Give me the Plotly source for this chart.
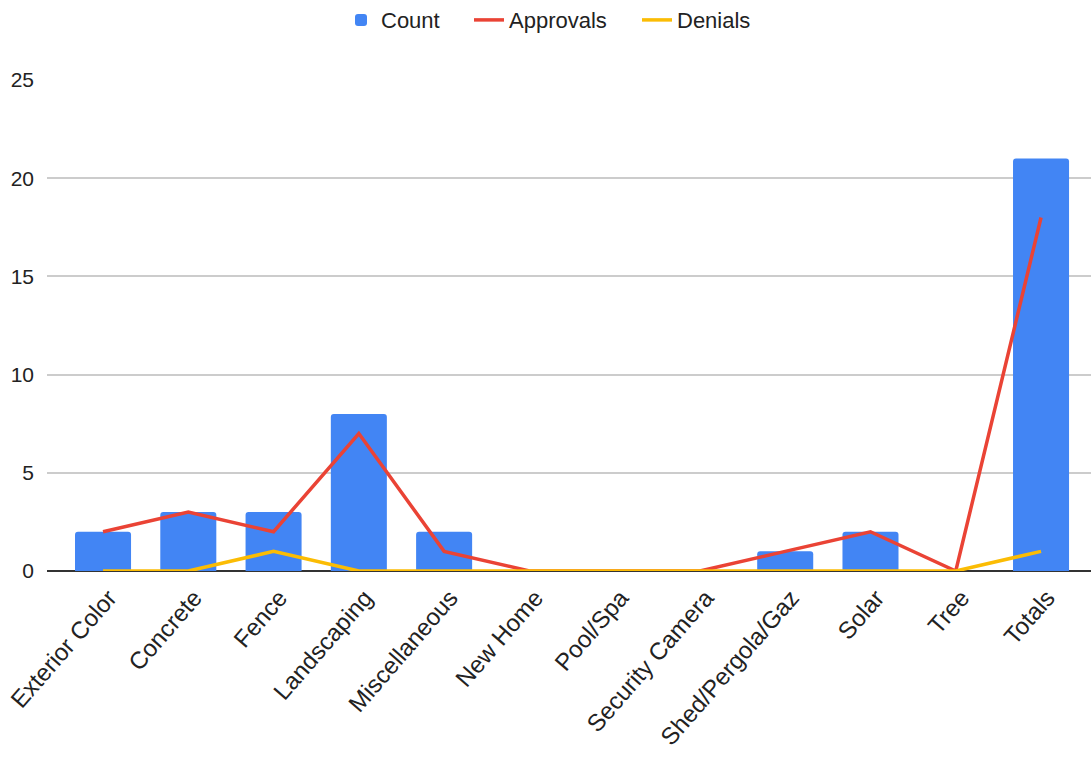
import plotly.graph_objects as go

categories = ["Exterior Color", "Concrete", "Fence", "Landscaping", "Miscellaneous",
              "New Home", "Pool/Spa", "Security Camera", "Shed/Pergola/Gaz", "Solar",
              "Tree", "Totals"]
count = [2, 3, 3, 8, 2, 0, 0, 0, 1, 2, 0, 21]
approvals = [2, 3, 2, 7, 1, 0, 0, 0, 1, 2, 0, 18]
denials = [0, 0, 1, 0, 0, 0, 0, 0, 0, 0, 0, 1]
y_ticks = [0, 5, 10, 15, 20, 25]

FONT = "Liberation Sans, Arial, sans-serif"
PL, PW = 47, 1044  # plot left / width in pixels (for legend placement)


def px_to_paper(px):
    return (px - PL) / PW


fig = go.Figure()
fig.add_trace(go.Bar(x=categories, y=count, name="Count", marker_color="#4285F4",
                     marker_line_width=0, legend="legend"))
fig.add_trace(go.Scatter(x=categories, y=approvals, name="Approvals", mode="lines",
                         line=dict(color="#EA4335", width=3.5), legend="legend2"))
fig.add_trace(go.Scatter(x=categories, y=denials, name="Denials", mode="lines",
                         line=dict(color="#FBBC04", width=3.5), legend="legend3"))

leg_common = dict(orientation="h", xanchor="left", y=1.122, yanchor="middle",
                  font=dict(size=22, color="#222222"), itemwidth=30,
                  bgcolor="rgba(0,0,0,0)")

fig.update_layout(
    width=1091, height=757,
    margin=dict(l=47, r=0, t=80, b=186, autoexpand=False),
    paper_bgcolor="white", plot_bgcolor="white",
    font=dict(family=FONT, size=21, color="#222222"),
    bargap=0.343,
    barcornerradius=3,
    showlegend=True,
    legend=dict(x=px_to_paper(341), **leg_common),
    legend2=dict(x=px_to_paper(469), **leg_common),
    legend3=dict(x=px_to_paper(637), **leg_common),
    xaxis=dict(type="category", range=[-0.657, 11.586], tickangle=-49,
               showgrid=False, showline=False, ticks="", ticklabelstandoff=7,
               ticklabelshift=6, tickfont=dict(size=24)),
    yaxis=dict(range=[0, 25], tickvals=y_ticks, showgrid=True, gridcolor="#cccccc",
               gridwidth=1.5, zeroline=True, zerolinecolor="#333333", zerolinewidth=2,
               showline=False, ticks="", ticklabelstandoff=12, tickfont=dict(size=21)),
)

fig.write_html("out.html", config={"displayModeBar": False},
               post_script="document.body.style.margin='0';")
